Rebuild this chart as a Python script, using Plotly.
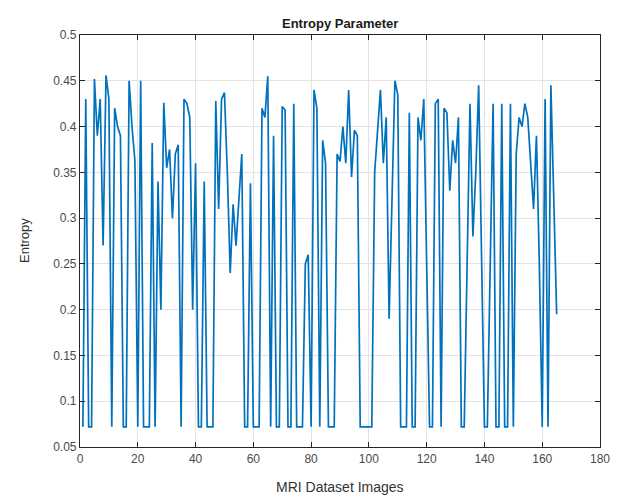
import plotly.graph_objects as go

# Entropy values for MRI dataset images 1..165
entropy = [
    0.072, 0.43, 0.072, 0.072, 0.452, 0.39, 0.43, 0.27, 0.456, 0.43,      # 1-10
    0.072, 0.42, 0.40, 0.39, 0.072, 0.072, 0.45, 0.40, 0.363, 0.072,      # 11-20
    0.45, 0.072, 0.072, 0.072, 0.382, 0.072, 0.34, 0.20, 0.426, 0.355,    # 21-30
    0.375, 0.30, 0.37, 0.38, 0.072, 0.43, 0.425, 0.41, 0.20, 0.36,        # 31-40
    0.072, 0.072, 0.34, 0.072, 0.072, 0.072, 0.428, 0.31, 0.43, 0.437,    # 41-50
    0.35, 0.24, 0.315, 0.27, 0.32, 0.37, 0.072, 0.072, 0.338, 0.072,      # 51-60
    0.072, 0.072, 0.42, 0.41, 0.455, 0.072, 0.39, 0.072, 0.072, 0.422,    # 61-70
    0.418, 0.072, 0.072, 0.425, 0.072, 0.072, 0.072, 0.25, 0.26, 0.072,   # 71-80
    0.44, 0.42, 0.072, 0.385, 0.36, 0.072, 0.072, 0.072, 0.37, 0.362,     # 81-90
    0.40, 0.36, 0.44, 0.345, 0.396, 0.39, 0.072, 0.072, 0.072, 0.072,     # 91-100
    0.072, 0.35, 0.40, 0.44, 0.36, 0.41, 0.19, 0.32, 0.45, 0.435,         # 101-110
    0.072, 0.072, 0.072, 0.415, 0.072, 0.072, 0.41, 0.385, 0.43, 0.25,    # 111-120
    0.072, 0.072, 0.425, 0.43, 0.072, 0.42, 0.415, 0.33, 0.385, 0.36,     # 121-130
    0.41, 0.072, 0.072, 0.25, 0.425, 0.28, 0.35, 0.445, 0.25, 0.072,      # 131-140
    0.072, 0.25, 0.425, 0.072, 0.072, 0.425, 0.072, 0.072, 0.425, 0.072,  # 141-150
    0.37, 0.41, 0.40, 0.425, 0.41, 0.36, 0.31, 0.39, 0.25, 0.072,         # 151-160
    0.43, 0.072, 0.445, 0.32, 0.195,                                      # 161-165
]
images = list(range(1, len(entropy) + 1))

x_ticks = [0, 20, 40, 60, 80, 100, 120, 140, 160, 180]
y_ticks = [0.05, 0.1, 0.15, 0.2, 0.25, 0.3, 0.35, 0.4, 0.45, 0.5]
y_tick_text = ["0.05", "0.1", "0.15", "0.2", "0.25", "0.3", "0.35", "0.4", "0.45", "0.5"]

FONT = "Liberation Sans, Arial, sans-serif"
TICK_COLOR = "#4a4a4a"

fig = go.Figure()
fig.add_trace(go.Scatter(
    x=images, y=entropy, mode="lines",
    line=dict(color="#0072BD", width=1.7),
    showlegend=False,
))

axis_common = dict(
    showline=True, linecolor="#262626", linewidth=1.2, mirror="ticks",
    ticks="inside", ticklen=5, tickcolor="#262626", tickwidth=1,
    showgrid=True, gridcolor="#E3E3E3", gridwidth=1,
    zeroline=False,
    tickfont=dict(family=FONT, size=12, color=TICK_COLOR),
)

fig.update_layout(
    width=614, height=491,
    margin=dict(l=72, r=22, t=27, b=52),
    paper_bgcolor="white", plot_bgcolor="white",
    xaxis=dict(range=[0, 180], tickvals=x_ticks, **axis_common),
    yaxis=dict(range=[0.05, 0.5], tickvals=y_ticks, ticktext=y_tick_text, **axis_common),
    annotations=[
        dict(text="<b>Entropy Parameter</b>", x=0.5, y=1, xref="paper", yref="paper",
             xanchor="center", yanchor="bottom", yshift=2, showarrow=False,
             font=dict(family=FONT, size=13, color="#1a1a1a")),
        dict(text="MRI Dataset Images", x=0.5, y=0, xref="paper", yref="paper",
             xanchor="center", yanchor="top", yshift=-30, showarrow=False,
             font=dict(family=FONT, size=14, color="#333333")),
        dict(text="Entropy", x=0, y=0.5, xref="paper", yref="paper",
             xanchor="center", yanchor="middle", xshift=-56, textangle=-90, showarrow=False,
             font=dict(family=FONT, size=13, color="#333333")),
    ],
)

fig.write_html("out.html")
